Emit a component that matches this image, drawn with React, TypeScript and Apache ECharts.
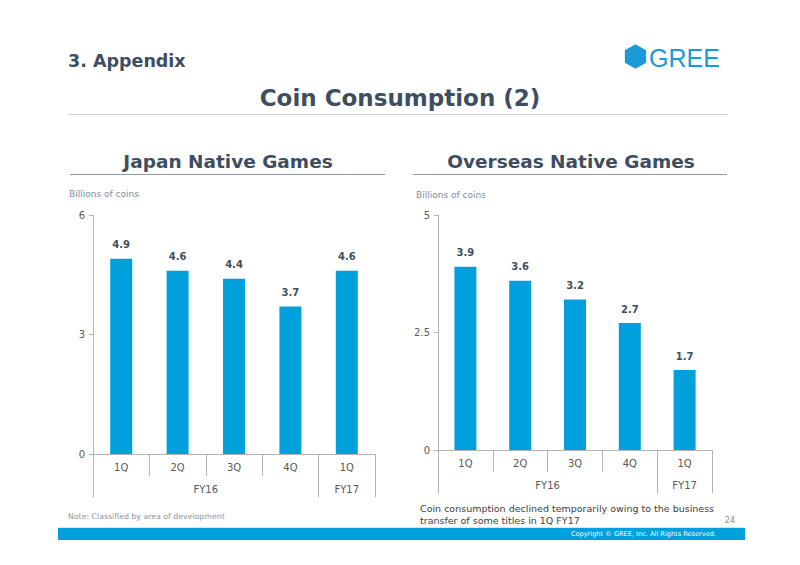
import React, { useEffect, useRef } from "react";
import * as echarts from "echarts";

// Quarter labels and their fiscal-year groups
const quarters = ["1Q", "2Q", "3Q", "4Q", "1Q"];
const fiscalYears = ["FY16", "FY16", "FY16", "FY16", "FY17"];

// Coin consumption, billions of coins
const japanValues = [4.9, 4.6, 4.4, 3.7, 4.6];
const overseasValues = [3.9, 3.6, 3.2, 2.7, 1.7];

// Value-axis ranges
const japanAxis = { max: 6, interval: 3 };
const overseasAxis = { max: 5, interval: 2.5 };

const FONT = "'DejaVu Sans', Verdana, sans-serif";
const BAR = "#00a0dc";
const DARK = "#3e4e60";
const GRAY_TEXT = "#595959";
const AXIS_GRAY = "#b4b4b4";

// Group consecutive quarters by fiscal year
function fyGroups(fys: string[]) {
  const groups: { name: string; start: number; end: number }[] = [];
  fys.forEach((fy, i) => {
    const last = groups[groups.length - 1];
    if (last && last.name === fy) last.end = i + 1;
    else groups.push({ name: fy, start: i, end: i + 1 });
  });
  return groups;
}

export default function App() {
  const ref = useRef<HTMLDivElement>(null);

  useEffect(() => {
    if (!ref.current) return;
    const chart = echarts.init(ref.current, null, { renderer: "svg" });
    const groups = fyGroups(fiscalYears);
    const boundaries = [0, ...groups.map((g) => g.end)];
    const mids = groups.map((g) => (g.start + g.end) / 2);
    const nameAt = (v: number) => {
      const g = groups.find((gg) => Math.abs((gg.start + gg.end) / 2 - v) < 1e-6);
      return g ? g.name : "";
    };

    const grids = [
      { left: 93, top: 215, width: 282, height: 239 },
      { left: 438, top: 215, width: 274, height: 235 },
    ];

    const xAxes: any[] = [];
    const yAxes: any[] = [];
    [japanAxis, overseasAxis].forEach((ax, gi) => {
      xAxes.push({
        type: "category",
        gridIndex: gi,
        data: quarters,
        axisLine: { lineStyle: { color: AXIS_GRAY, width: 1 } },
        axisTick: { show: true, length: 22, interval: 0, lineStyle: { color: AXIS_GRAY } },
        axisLabel: { color: GRAY_TEXT, fontSize: 10, fontFamily: FONT, margin: 8, interval: 0 },
      });
      xAxes.push({
        type: "value",
        gridIndex: gi,
        position: "bottom",
        offset: 22,
        min: 0,
        max: quarters.length,
        axisLine: { show: false },
        splitLine: { show: false },
        axisTick: { show: true, length: 21, customValues: boundaries, lineStyle: { color: AXIS_GRAY } },
        axisLabel: {
          color: GRAY_TEXT,
          fontSize: 10,
          fontFamily: FONT,
          margin: 8,
          customValues: mids,
          formatter: (v: number) => nameAt(v),
        },
      });
      yAxes.push({
        type: "value",
        gridIndex: gi,
        min: 0,
        max: ax.max,
        interval: ax.interval,
        axisLine: { show: true, lineStyle: { color: AXIS_GRAY } },
        axisTick: { show: true, length: 4, lineStyle: { color: AXIS_GRAY } },
        splitLine: { show: false },
        axisLabel: { color: GRAY_TEXT, fontSize: 10, fontFamily: FONT, margin: 8 },
      });
    });

    const barSeries = (data: number[], gi: number) => ({
      type: "bar",
      xAxisIndex: gi * 2,
      yAxisIndex: gi,
      data,
      barWidth: 22,
      itemStyle: { color: BAR },
      label: {
        show: true,
        position: "top",
        distance: 9,
        color: DARK,
        fontSize: 10,
        fontWeight: "bold",
        fontFamily: FONT,
        formatter: (p: any) => p.value.toFixed(1),
      },
    });

    const txt = (text: string, x: number, y: number, font: string, fill: string, align = "left") => ({
      type: "text",
      style: { text, x, y, font, fill, textAlign: align, textVerticalAlign: "middle" },
    });

    // Logo hexagon (pointy top)
    const hx = 635.5, hy = 56.5, hr = 12.3;
    const hexPts: number[][] = [];
    for (let k = 0; k < 6; k++) {
      const a = (Math.PI / 180) * (60 * k - 90);
      hexPts.push([hx + hr * Math.cos(a), hy + hr * Math.sin(a)]);
    }

    chart.setOption({
      animation: false,
      backgroundColor: "#ffffff",
      grid: grids,
      xAxis: xAxes,
      yAxis: yAxes,
      series: [barSeries(japanValues, 0), barSeries(overseasValues, 1)],
      graphic: [
        txt("3. Appendix", 68, 61, `bold 17.5px ${FONT}`, DARK),
        { type: "polygon", shape: { points: hexPts }, style: { fill: "#1a9ad8" } },
        txt("GREE", 649, 58, `25px 'Liberation Sans', Arial, sans-serif`, "#1a9ad8"),
        txt("Coin Consumption (2)", 400, 98, `bold 23px ${FONT}`, DARK, "center"),
        { type: "line", shape: { x1: 68, y1: 114.5, x2: 728, y2: 114.5 }, style: { stroke: "#cfcfcf", lineWidth: 1 } },
        txt("Japan Native Games", 228, 161, `bold 18.5px ${FONT}`, DARK, "center"),
        { type: "line", shape: { x1: 70, y1: 174.5, x2: 385, y2: 174.5 }, style: { stroke: "#8d99a6", lineWidth: 1 } },
        txt("Overseas Native Games", 571, 161, `bold 18.5px ${FONT}`, DARK, "center"),
        { type: "line", shape: { x1: 413, y1: 174.5, x2: 727, y2: 174.5 }, style: { stroke: "#8d99a6", lineWidth: 1 } },
        txt("Billions of coins", 69, 194, `9px ${FONT}`, "#7f8b98"),
        txt("Billions of coins", 416, 195, `9px ${FONT}`, "#7f8b98"),
        txt("Note: Classified by area of development", 68, 516, `7.8px ${FONT}`, "#8a96a3"),
        txt("Coin consumption declined temporarily owing to the business", 420, 508, `9.5px ${FONT}`, "#404040"),
        txt("transfer of some titles in 1Q FY17", 420, 520, `9.5px ${FONT}`, "#404040"),
        txt("24", 735, 520, `8px ${FONT}`, "#8a8a8a", "right"),
        { type: "rect", shape: { x: 58, y: 528, width: 687, height: 12 }, style: { fill: "#00a0dc" } },
        { type: "line", shape: { x1: 58, y1: 527.5, x2: 745, y2: 527.5 }, style: { stroke: "#cde9f5", lineWidth: 1 } },
        txt("Copyright © GREE, Inc. All Rights Reserved.", 716, 534, `6.6px ${FONT}`, "#ffffff", "right"),
      ],
    });

    return () => chart.dispose();
  }, []);

  return (
    <div
      ref={ref}
      style={{ position: "absolute", left: 0, top: 0, width: 800, height: 565 }}
    />
  );
}
